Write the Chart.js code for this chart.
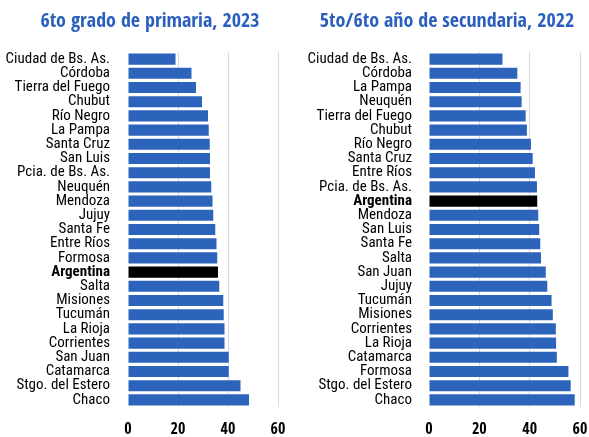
<!DOCTYPE html>
<html>
<head>
<meta charset="utf-8">
<script src="https://cdn.jsdelivr.net/npm/chart.js@4"></script>
<style>
  body { margin: 0; background: #fff; overflow: hidden; }
  canvas { position: absolute; top: 0; }
  #izq { left: 0; }
  #der { left: 305px; }
</style>
</head>
<body>
<canvas id="izq" width="300" height="437"></canvas>
<canvas id="der" width="284" height="437"></canvas>
<script>
// datos
const provinciasPrimaria = ['Ciudad de Bs. As.', 'Córdoba', 'Tierra del Fuego', 'Chubut', 'Río Negro',
  'La Pampa', 'Santa Cruz', 'San Luis', 'Pcia. de Bs. As.', 'Neuquén', 'Mendoza', 'Jujuy',
  'Santa Fe', 'Entre Ríos', 'Formosa', 'Argentina', 'Salta', 'Misiones', 'Tucumán', 'La Rioja',
  'Corrientes', 'San Juan', 'Catamarca', 'Stgo. del Estero', 'Chaco'];
const valoresPrimaria = [19.0, 25.4, 27.2, 29.6, 32.0, 32.3, 32.7, 32.8, 32.8, 33.3, 33.8, 34.1,
  34.9, 35.4, 35.7, 36.0, 36.5, 38.1, 38.3, 38.6, 38.6, 40.3, 40.3, 45.0, 48.4];

const provinciasSecundaria = ['Ciudad de Bs. As.', 'Córdoba', 'La Pampa', 'Neuquén', 'Tierra del Fuego',
  'Chubut', 'Río Negro', 'Santa Cruz', 'Entre Ríos', 'Pcia. de Bs. As.', 'Argentina', 'Mendoza',
  'San Luis', 'Santa Fe', 'Salta', 'San Juan', 'Jujuy', 'Tucumán', 'Misiones', 'Corrientes',
  'La Rioja', 'Catamarca', 'Formosa', 'Stgo. del Estero', 'Chaco'];
const valoresSecundaria = [29.2, 35.1, 36.4, 36.8, 38.4, 38.9, 40.5, 41.2, 42.1, 42.9, 43.0, 43.4,
  43.8, 44.2, 44.5, 46.4, 47.0, 48.7, 49.2, 50.4, 50.5, 50.8, 55.4, 56.3, 57.9];

const ticksX = [0, 20, 40, 60];

const azul = '#2d64bb';
const fuente = "'Roboto Condensed', 'Open Sans Condensed', sans-serif";
const fuenteNegrita = "'Open Sans Condensed', 'Roboto Condensed', sans-serif";

function crearGrafico(id, titulo, labels, valores, anchoEje, padLabel, margenDer) {
  const ctx = document.getElementById(id).getContext('2d');
  return new Chart(ctx, {
    type: 'bar',
    data: {
      labels: labels,
      datasets: [{
        data: valores,
        backgroundColor: labels.map(l => l === 'Argentina' ? '#000000' : azul),
        barPercentage: 0.78,
        categoryPercentage: 1
      }]
    },
    options: {
      indexAxis: 'y',
      responsive: false,
      animation: false,
      layout: { padding: 0 },
      plugins: {
        legend: { display: false },
        tooltip: { enabled: false },
        title: {
          display: true,
          text: titulo,
          color: '#2b5fbd',
          font: { family: fuenteNegrita, size: 20, weight: 'bold' },
          padding: { top: 10, bottom: 18 }
        }
      },
      scales: {
        x: {
          min: 0,
          max: 60,
          afterBuildTicks: function(scale) {
            scale.ticks = ticksX.map(v => ({ value: v }));
          },
          afterFit: function(scale) {
            scale.height = 30;
            scale.paddingRight = margenDer;
          },
          border: { display: false },
          grid: {
            drawTicks: false,
            color: c => c.tick && c.tick.value === 0 ? 'rgba(0,0,0,0)' : '#d9d9d9'
          },
          ticks: {
            padding: 13,
            color: '#000',
            font: { family: fuenteNegrita, size: 16, weight: 'bold' }
          }
        },
        y: {
          afterFit: function(scale) { scale.width = anchoEje; },
          border: { display: false },
          grid: { display: false, drawTicks: false },
          ticks: {
            padding: padLabel,
            autoSkip: false,
            color: '#000',
            font: c => ({
              family: fuente,
              size: 15,
              weight: labels[c.index] === 'Argentina' ? 'bold' : 'normal'
            })
          }
        }
      }
    }
  });
}

crearGrafico('izq', '6to grado de primaria, 2023', provinciasPrimaria, valoresPrimaria, 128, 18, 22);
crearGrafico('der', '5to/6to año de secundaria, 2022', provinciasSecundaria, valoresSecundaria, 124, 17, 9);
</script>
</body>
</html>
